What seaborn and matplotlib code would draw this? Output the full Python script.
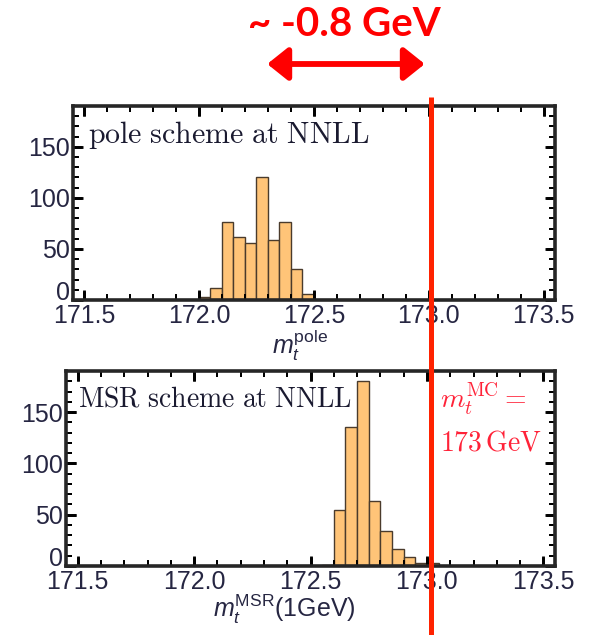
import numpy as np
import pandas as pd
import matplotlib
matplotlib.use("Agg")
import matplotlib.pyplot as plt
import matplotlib.transforms as mtransforms
from matplotlib.patches import FancyArrowPatch, ArrowStyle
from matplotlib.lines import Line2D
from matplotlib.ticker import MultipleLocator
import seaborn as sns

# ---------------- data ----------------
bin_width = 0.05
pole_bin_left = [172.00, 172.05, 172.10, 172.15, 172.20, 172.25, 172.30, 172.35, 172.40, 172.45]
pole_counts = [3, 12, 76, 62, 56, 120, 59, 76, 30, 6]
msr_bin_left = [172.55, 172.60, 172.65, 172.70, 172.75, 172.80, 172.85, 172.90, 172.95, 173.00]
msr_counts = [1, 55, 135, 180, 63, 34, 17, 9, 3, 3]
x_ticks = [171.5, 172.0, 172.5, 173.0, 173.5]
y_ticks = [0, 50, 100, 150]
m_mc = 173.0
shift_from = 172.3

sns.set_theme(style="ticks")
tick_color = "#262642"
plt.rcParams.update({
    "mathtext.fontset": "custom",
    "mathtext.rm": "Liberation Sans",
    "mathtext.it": "Liberation Sans:italic",
    "mathtext.bf": "Liberation Sans:bold",
    "font.family": ["Liberation Sans", "DejaVu Sans"],
    "xtick.labelcolor": tick_color, "ytick.labelcolor": tick_color,
    "xtick.labelsize": 18, "ytick.labelsize": 18,
    "xtick.major.pad": 3, "ytick.major.pad": 2,
    "xtick.direction": "in", "ytick.direction": "in",
    "xtick.top": True, "ytick.right": True,
    "xtick.bottom": True, "ytick.left": True,
    "axes.axisbelow": False,
})

fig = plt.figure(figsize=(5.98, 6.35), dpi=100)
W, H = 598, 635
rect1 = [72.7 / W, 1 - 300 / H, 482.3 / W, 194 / H]
rect2 = [66 / W, 1 - 566 / H, 489 / W, 195 / H]
ax1 = fig.add_axes(rect1)
ax2 = fig.add_axes(rect2)

bar_fill = "#ffc478"
bar_edge = "#4a3b2c"


def draw_hist(ax, left, counts):
    df = pd.DataFrame({"x": np.asarray(left) + bin_width / 2, "w": counts})
    edges = list(left) + [left[-1] + bin_width]
    sns.histplot(data=df, x="x", weights="w", bins=edges, ax=ax,
                 color=bar_fill, edgecolor=bar_edge, linewidth=1.0, alpha=1.0)
    ax.set_xlim(171.45, 173.55)
    ax.set_ylim(0, 190)
    ax.set_xticks(x_ticks)
    ax.set_yticks(y_ticks)
    ax.xaxis.set_minor_locator(MultipleLocator(0.1))
    ax.yaxis.set_minor_locator(MultipleLocator(10))
    for s in ax.spines.values():
        s.set_linewidth(2.6)
        s.set_zorder(6)
    ax.set_ylabel("")


def frame_ticks(ax, rect):
    """Mathematica-style inward ticks on all four frame sides."""
    w_px, h_px = rect[2] * W, rect[3] * H
    tx = mtransforms.blended_transform_factory(ax.transData, ax.transAxes)
    ty = mtransforms.blended_transform_factory(ax.transAxes, ax.transData)
    x0, x1 = ax.get_xlim()
    y0, y1 = ax.get_ylim()
    specs = ((ax.xaxis.get_majorticklocs(), ax.yaxis.get_majorticklocs(), 9.5, 2.0),
             (ax.xaxis.get_minorticklocs(), ax.yaxis.get_minorticklocs(), 5.5, 1.4))
    for xl, yl, L, lw in specs:
        xl = [v for v in xl if x0 <= v <= x1]
        yl = [v for v in yl if y0 < v <= y1]
        for a, b in ((0, L / h_px), (1 - L / h_px, 1)):
            ax.vlines(xl, a, b, transform=tx, colors="black", linewidth=lw,
                      clip_on=False, zorder=5)
        for a, b in ((0, L / w_px), (1 - L / w_px, 1)):
            ax.hlines(yl, a, b, transform=ty, colors="black", linewidth=lw,
                      clip_on=False, zorder=5)
    ax.set_xlim(x0, x1)
    ax.set_ylim(y0, y1)


draw_hist(ax1, pole_bin_left, pole_counts)
draw_hist(ax2, msr_bin_left, msr_counts)
frame_ticks(ax1, rect1)
frame_ticks(ax2, rect2)

ax1.set_xlabel(r"$m_t^{\mathrm{pole}}$", fontsize=18, color=tick_color)
ax1.xaxis.set_label_coords(0.471, -0.14)
ax2.set_xlabel(r"$m_t^{\mathrm{MSR}}$(1GeV)", fontsize=18, color=tick_color)
ax2.xaxis.set_label_coords(0.447, -0.135)

ax1.text(0.032, 0.81, r"$\mathrm{pole\ scheme\ at\ NNLL}$", transform=ax1.transAxes,
         fontsize=21.5, color="#1a1a30", va="baseline", ha="left", math_fontfamily="cm")
ax2.text(0.024, 0.82, r"$\mathrm{MSR\ scheme\ at\ NNLL}$", transform=ax2.transAxes,
         fontsize=20, color="#1a1a30", va="baseline", ha="left", math_fontfamily="cm")

red_txt = "#ff2238"
ax2.text(0.765, 0.81, r"$m_t^{\mathrm{MC}} =$", transform=ax2.transAxes,
         fontsize=20, color=red_txt, va="baseline", ha="left", math_fontfamily="cm")
ax2.text(0.765, 0.59, r"$173\,\mathrm{GeV}$", transform=ax2.transAxes,
         fontsize=20, color=red_txt, va="baseline", ha="left", math_fontfamily="cm")

# red vertical marker spanning both panels
blend = mtransforms.blended_transform_factory(ax1.transData, fig.transFigure)
fig.add_artist(Line2D([m_mc + 0.01, m_mc + 0.01], [1 - 97 / H, 0.0], transform=blend,
                      color="#ff2200", linewidth=3.6, solid_capstyle="butt", zorder=10))

# double arrow and shift label
arrow = FancyArrowPatch((shift_from - 0.015, 1 - 64 / H), (m_mc - 0.005, 1 - 64 / H),
                        transform=blend,
                        arrowstyle=ArrowStyle("<|-|>", head_length=1.25, head_width=1.0),
                        mutation_scale=10, color="#ff0000", linewidth=4.2, zorder=10)
fig.add_artist(arrow)
fig.text(344 / W, 1 - 25 / H, "~ -0.8 GeV", ha="center", va="center",
         family=["Lato", "DejaVu Sans"], fontweight="bold", fontsize=29, color="#ff0000")

# built-in ticks too (same places), applied last
for ax in (ax1, ax2):
    ax.tick_params(which="both", direction="in", bottom=True, left=True, top=True, right=True)
    ax.tick_params(which="major", length=7, width=2, color="black")
    ax.tick_params(which="minor", length=4, width=1.4, color="black")

# lift the "0" label a little, as in the reference
fig.canvas.draw()
for ax in (ax1, ax2):
    for lab in ax.get_yticklabels():
        if lab.get_text() == "0":
            lab.set_transform(lab.get_transform() +
                              mtransforms.ScaledTranslation(0, 7 / 72, fig.dpi_scale_trans))

fig.savefig("out.png", dpi=100)
